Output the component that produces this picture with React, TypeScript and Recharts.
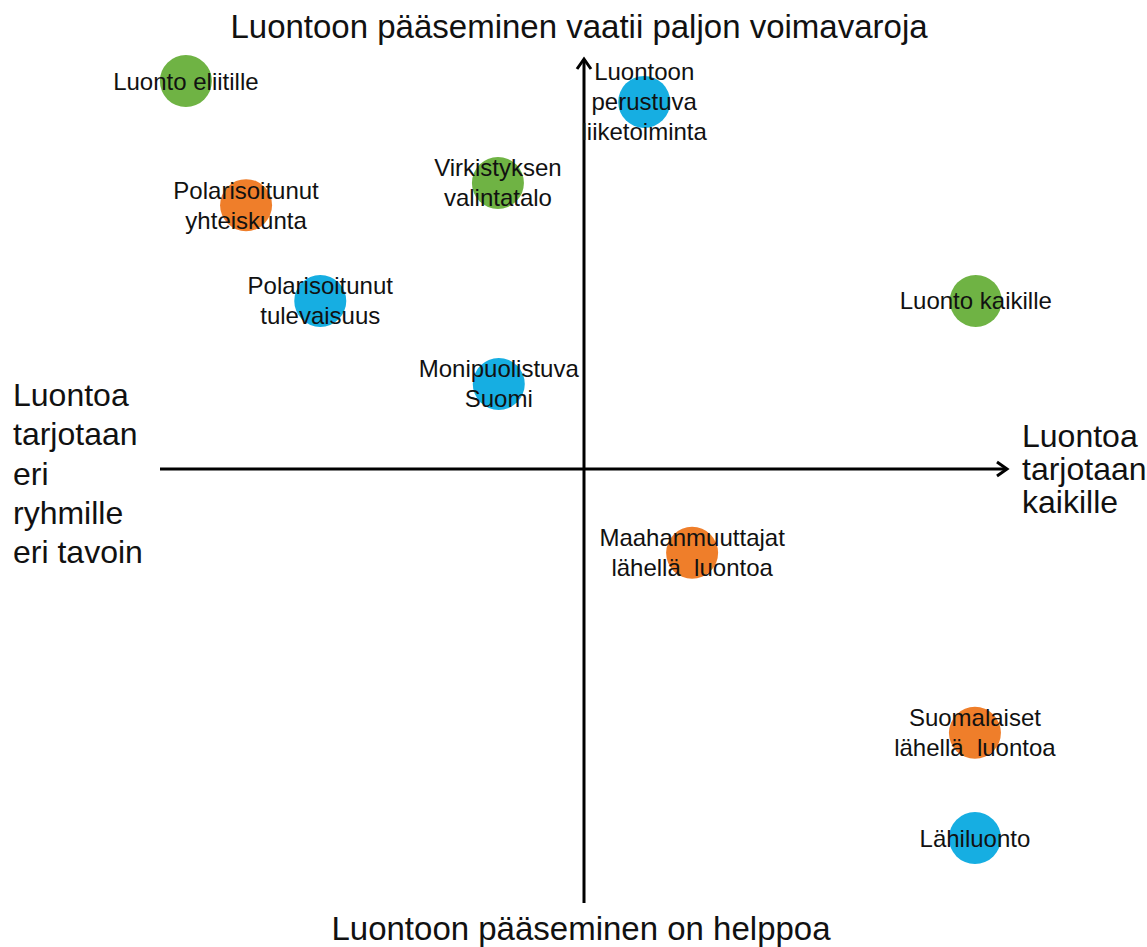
import React from "react";
import { ScatterChart, Scatter, XAxis, YAxis, ReferenceLine } from "recharts";

// Scenario positions (x: horizontal axis, y: vertical axis; origin at the crossing)
const greenPoints = [
  { name: "Luonto eliitille", x: -9.39, y: 9.44 },
  { name: "Virkistyksen\nvalintatalo", x: -2.03, y: 6.96 },
  { name: "Luonto kaikille", x: 9.24, y: 4.09 },
];
const orangePoints = [
  { name: "Polarisoitunut\nyhteiskunta", x: -7.97, y: 6.42 },
  { name: "Maahanmuuttajat\nlähellä  luontoa", x: 2.55, y: -2.04 },
  { name: "Suomalaiset\nlähellä  luontoa", x: 9.22, y: -6.42 },
];
const bluePoints = [
  { name: "Polarisoitunut\ntulevaisuus", x: -6.22, y: 4.09 },
  { name: "Luontoon\nperustuva\nliiketoiminta", x: 1.42, y: 8.93 },
  { name: "Monipuolistuva\nSuomi", x: -2.01, y: 2.07 },
  { name: "Lähiluonto", x: 9.22, y: -8.98 },
];

const xDomain = [-10, 10];
const yDomain = [-10.56, 10];

const topTitle = "Luontoon pääseminen vaatii paljon voimavaroja";
const bottomTitle = "Luontoon pääseminen on helppoa";
const leftTitle = ["Luontoa", "tarjotaan", "eri", "ryhmille", "eri tavoin"];
const rightTitle = ["Luontoa", "tarjotaan", "kaikille"];

const FONT = "'Liberation Sans', Arial, Helvetica, sans-serif";
const W = 1147;
const H = 947;

const makeShape = (color: string) => (props: any) => {
  const { cx, cy, payload } = props;
  const lines: string[] = String(payload.name).split("\n");
  const lh = 30;
  return (
    <g>
      <circle cx={cx} cy={cy} r={26} fill={color} />
      <text
        x={cx}
        textAnchor="middle"
        fontFamily={FONT}
        fontSize={24}
        fill="#111"
        style={{ whiteSpace: "pre" }}
      >
        {lines.map((l, i) => (
          <tspan key={i} x={cx} y={cy + (i - (lines.length - 1) / 2) * lh + 8.5}>
            {l}
          </tspan>
        ))}
      </text>
    </g>
  );
};

const VerticalArrow = (props: any) => {
  const { x1, y1, x2, y2 } = props;
  const top = Math.min(y1, y2);
  const bottom = Math.max(y1, y2);
  return (
    <g stroke="#000" strokeWidth={3} fill="none">
      <line x1={x1} y1={top + 1} x2={x2} y2={bottom} />
      <polyline points={`${x1 - 7},${top + 11} ${x1},${top + 1} ${x1 + 7},${top + 11}`} strokeLinejoin="miter" />
    </g>
  );
};

const HorizontalArrow = (props: any) => {
  const { x1, y1, x2, y2 } = props;
  const left = Math.min(x1, x2);
  const right = Math.max(x1, x2);
  return (
    <g stroke="#000" strokeWidth={3} fill="none">
      <line x1={left} y1={y1} x2={right - 1} y2={y2} />
      <polyline points={`${right - 11},${y1 - 7} ${right - 1},${y1} ${right - 11},${y1 + 7}`} strokeLinejoin="miter" />
    </g>
  );
};

export default function App() {
  return (
    <div style={{ position: "absolute", left: 0, top: 0, width: W, height: H, background: "#fff" }}>
      <ScatterChart
        width={W}
        height={H}
        margin={{ top: 58, right: 139, bottom: 44, left: 160 }}
      >
        <XAxis type="number" dataKey="x" domain={xDomain} hide />
        <YAxis type="number" dataKey="y" domain={yDomain} hide />
        <ReferenceLine x={0} shape={VerticalArrow} />
        <ReferenceLine y={0} shape={HorizontalArrow} />
        <Scatter data={greenPoints} shape={makeShape("#6FB344")} isAnimationActive={false} />
        <Scatter data={orangePoints} shape={makeShape("#EF7E2A")} isAnimationActive={false} />
        <Scatter data={bluePoints} shape={makeShape("#16AEE2")} isAnimationActive={false} />
      </ScatterChart>
      <svg
        width={W}
        height={H}
        style={{ position: "absolute", left: 0, top: 0, pointerEvents: "none" }}
      >
        <text x={579} y={38} textAnchor="middle" fontFamily={FONT} fontSize={33} fill="#111">
          {topTitle}
        </text>
        <text x={581} y={940} textAnchor="middle" fontFamily={FONT} fontSize={33} fill="#111">
          {bottomTitle}
        </text>
        <text fontFamily={FONT} fontSize={32} fill="#111">
          {leftTitle.map((l, i) => (
            <tspan key={i} x={13} y={406 + i * 39.3}>
              {l}
            </tspan>
          ))}
        </text>
        <text fontFamily={FONT} fontSize={32} fill="#111">
          {rightTitle.map((l, i) => (
            <tspan key={i} x={1022} y={447 + i * 33}>
              {l}
            </tspan>
          ))}
        </text>
      </svg>
    </div>
  );
}
